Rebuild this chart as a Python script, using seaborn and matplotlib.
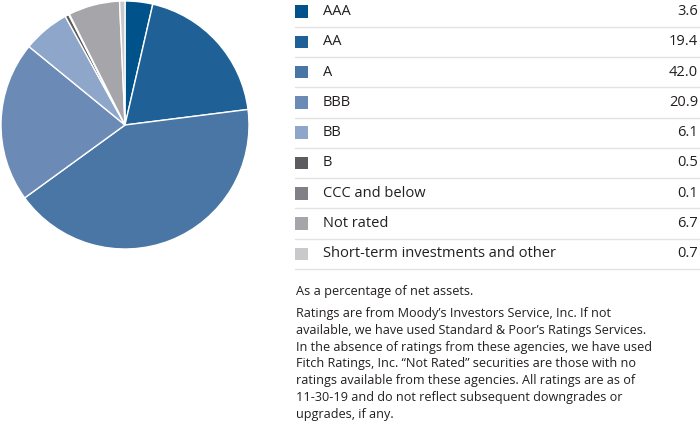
import matplotlib
matplotlib.use("Agg")
import matplotlib.pyplot as plt
import seaborn as sns

categories = ["AAA", "AA", "A", "BBB", "BB", "B", "CCC and below", "Not rated",
              "Short-term investments and other"]
values = [3.6, 19.4, 42.0, 20.9, 6.1, 0.5, 0.1, 6.7, 0.7]
value_labels = ["3.6", "19.4", "42.0", "20.9", "6.1", "0.5", "0.1", "6.7", "0.7"]
colors = ["#00538a", "#1f6196", "#4a76a6", "#6b8bb6", "#8da6c9",
          "#5b5b60", "#808086", "#a6a6aa", "#c9c9cc"]
note = "As a percentage of net assets."
footnote = ("Ratings are from Moody\u2019s Investors Service, Inc. If not\n"
            "available, we have used Standard & Poor\u2019s Ratings Services.\n"
            "In the absence of ratings from these agencies, we have used\n"
            "Fitch Ratings, Inc. \u201cNot Rated\u201d securities are those with no\n"
            "ratings available from these agencies. All ratings are as of\n"
            "11-30-19 and do not reflect subsequent downgrades or\n"
            "upgrades, if any.")

sns.set_theme(style="white")
plt.rcParams["font.family"] = ["Open Sans", "DejaVu Sans"]

W, H = 700, 437
fig = plt.figure(figsize=(7, 4.37), dpi=100)

# pie axes: center (125,125), radius 124 px
cx, cy, r = 125, 125, 124
ax = fig.add_axes([(cx - r) / W, 1 - (cy + r) / H, 2 * r / W, 2 * r / H])
ax.pie(values, colors=colors, startangle=90, counterclock=False,
       wedgeprops=dict(edgecolor="white", linewidth=1.0))
ax.set_xlim(-1, 1)
ax.set_ylim(-1, 1)
ax.set_aspect("auto")
ax.axis("off")

# table axes in pixel coordinates
tx = fig.add_axes([0, 0, 1, 1], facecolor="none")
tx.set_xlim(0, W)
tx.set_ylim(H, 0)
tx.axis("off")

row0, pitch = 11.5, 30.3
rows = [row0 + pitch * i for i in range(len(categories))]
tx.scatter([301.5] * len(rows), rows, marker="s", s=80, c=colors, linewidths=0)
for y, lab, val in zip(rows, categories, value_labels):
    tx.text(323, y, lab, fontsize=10.5, color="#231f20", va="center", ha="left")
    tx.text(698, y, val, fontsize=10.5, color="#231f20", va="center", ha="right")
    tx.plot([295, 700], [y + pitch / 2, y + pitch / 2], color="#e3e3e3", lw=1.0)

tx.text(296, 292, note, fontsize=9.2, color="#231f20", va="center", ha="left")
tx.text(296, 307, footnote, fontsize=9.1, color="#231f20", va="top", ha="left",
        linespacing=1.38)

fig.savefig("out.png", dpi=100)
